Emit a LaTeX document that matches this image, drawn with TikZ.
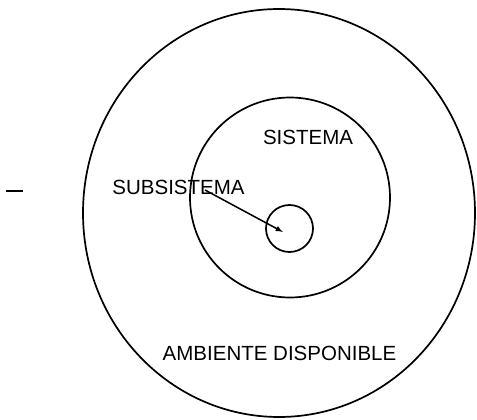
\documentclass[tikz,border=0pt]{standalone}
\usepackage{fontspec}
\setmainfont{Liberation Sans}
\usetikzlibrary{arrows}

\begin{document}
\begin{tikzpicture}[x=1pt,y=-1pt,line width=1.7pt,
    lbl/.style={font=\fontsize{20.5}{24}\selectfont, inner sep=0pt}]
    \useasboundingbox (0,0) rectangle (477,420);
    \draw (279,213) ellipse (196 and 204);
    \draw (290,197.5) circle (100);
    \draw (289.5,228.5) circle (23.5);
    \draw (6,191) -- (23,191);
    \node[lbl] (sistema) at (308,137) {SISTEMA};
    \node[lbl] (subsistema) at (178.5,187) {SUBSISTEMA};
    \node[lbl] (ambiente) at (279.5,353) {AMBIENTE DISPONIBLE};
    \coordinate (desde) at (205,190);
    \coordinate (hasta) at (283,232);
    \draw[-latex, line width=1.5pt] (desde) -- (hasta);
\end{tikzpicture}
\end{document}
